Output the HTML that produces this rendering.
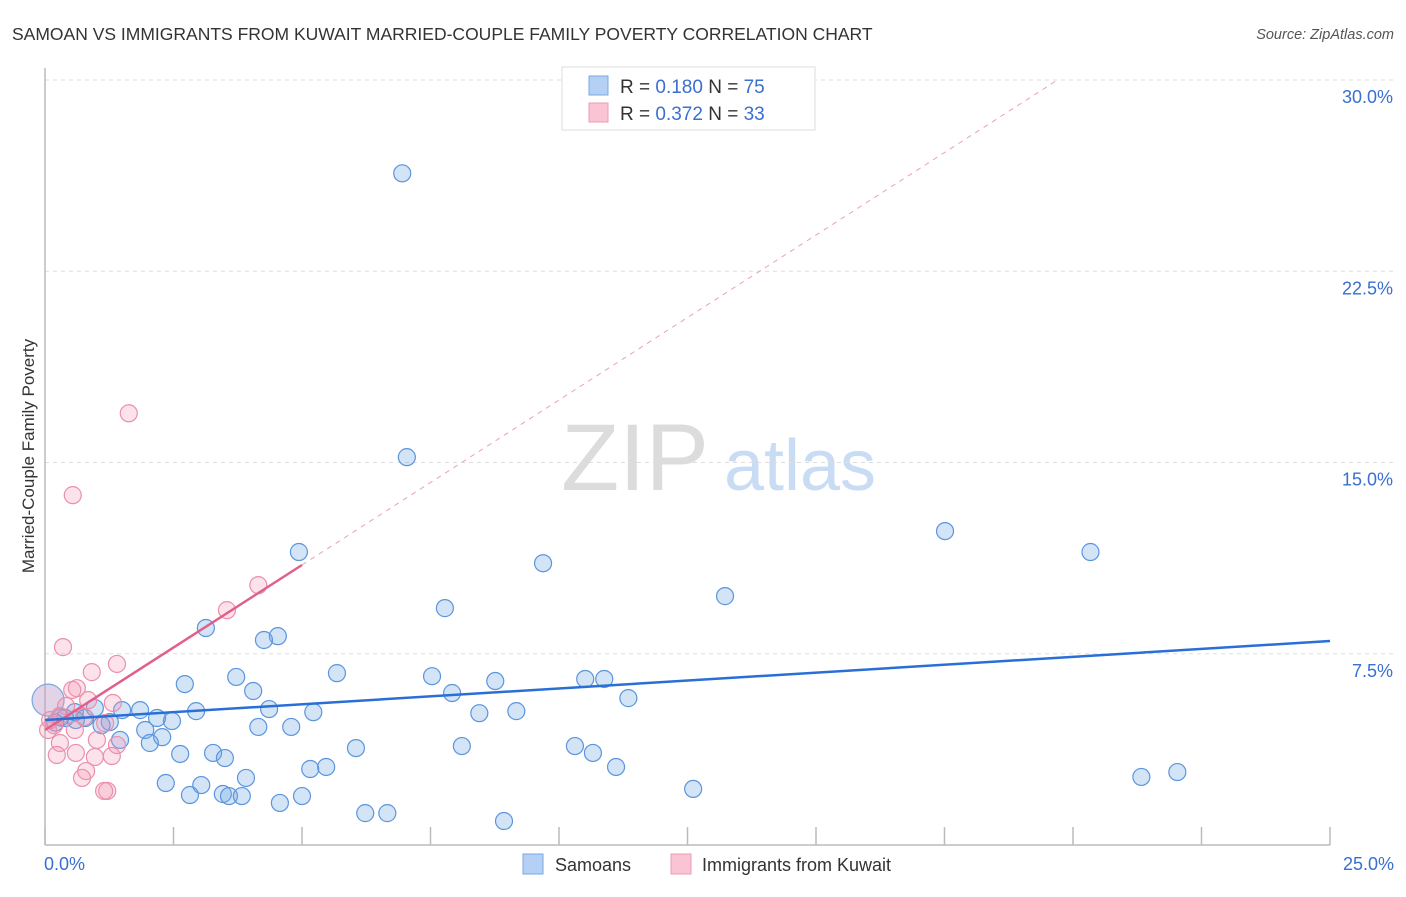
<!DOCTYPE html>
<html><head><meta charset="utf-8"><style>
body{margin:0;background:#fff;font-family:"Liberation Sans",sans-serif;}
svg text{font-family:"Liberation Sans",sans-serif;}
</style></head><body>
<svg id="chart" width="1406" height="892" xmlns="http://www.w3.org/2000/svg">
<text x="12" y="40" font-size="17.5" fill="#333">SAMOAN VS IMMIGRANTS FROM KUWAIT MARRIED-COUPLE FAMILY POVERTY CORRELATION CHART</text>
<text x="1394" y="39" font-size="14.5" fill="#555" text-anchor="end" font-style="italic">Source: ZipAtlas.com</text>
<text transform="translate(34,456) rotate(-90)" font-size="17" fill="#333" text-anchor="middle">Married-Couple Family Poverty</text>
<g>
<text x="635" y="490" font-size="95" fill="#dcdcdc" font-family="Liberation Serif" text-anchor="middle">ZIP</text>
<text x="800" y="490" font-size="72" fill="#c8dcf4" text-anchor="middle">atlas</text>
</g>
<g id="grid"></g><g id="axes"></g><g id="marks"></g>
<g>
<rect x="562" y="67" width="253" height="63" fill="#fff" stroke="#ddd"/>
<rect x="589" y="76" width="19" height="19" fill="#b4d0f4" stroke="#7aa8e0"/>
<rect x="589" y="103" width="19" height="19" fill="#fac4d4" stroke="#ec9ab4"/>
<text x="620" y="93" font-size="19" fill="#333">R = <tspan fill="#3a6fd0">0.180</tspan>   N = <tspan fill="#3a6fd0">75</tspan></text>
<text x="620" y="120" font-size="19" fill="#333">R = <tspan fill="#3a6fd0">0.372</tspan>   N = <tspan fill="#3a6fd0">33</tspan></text>
</g>
<g>
<rect x="523" y="854" width="20" height="20" fill="#b4d0f4" stroke="#7aa8e0"/>
<text x="555" y="871" font-size="18" fill="#333">Samoans</text>
<rect x="671" y="854" width="20" height="20" fill="#fac4d4" stroke="#ec9ab4"/>
<text x="702" y="871" font-size="18" fill="#333">Immigrants from Kuwait</text>
</g>
</svg>
<script>
const yTicks=[7.5,15,22.5,30];
const yTickLabels=["7.5%","15.0%","22.5%","30.0%"];
const xTickVals=[0,2.5,5,7.5,10,12.5,15,17.5,20,22.5,25];
const xEndLabels=["0.0%","25.0%"];
const samoanX=[6.95,7.04,4.94,9.69,17.51,20.34,7.78,13.23,3.13,4.53,4.26,5.68,3.72,2.72,4.05,7.53,7.92,8.76,10.51,10.88,11.35,9.17,8.45,5.22,4.36,2.94,1.85,2.18,2.47,4.15,4.79,1.50,0.97,1.26,0.78,0.39,1.95,2.28,2.04,1.46,6.05,8.11,10.31,10.66,11.11,2.63,3.27,3.50,5.16,5.47,3.91,2.35,3.04,2.82,3.46,3.58,3.83,4.57,5.00,6.23,6.66,8.93,12.61,21.33,22.03,0.58,0.3,0.6,1.1,0.2];
const samoanY=[26.34,15.21,11.49,11.05,12.31,11.49,9.29,9.76,8.51,8.19,8.04,6.74,6.59,6.31,6.04,6.62,5.96,6.43,6.51,6.51,5.76,5.25,5.17,5.21,5.33,5.25,5.29,4.98,4.86,4.63,4.63,5.29,5.37,4.82,4.98,4.98,4.51,4.23,4.00,4.12,3.80,3.88,3.88,3.61,3.06,3.57,3.61,3.41,2.98,3.06,2.63,2.43,2.35,1.96,2.00,1.92,1.92,1.65,1.92,1.25,1.25,0.94,2.20,2.67,2.86,5.21,5.0,4.9,4.7,4.8];
const kuwaitX=[1.63,0.54,4.15,3.54,0.35,1.40,0.91,0.62,0.53,0.84,1.32,0.41,0.76,1.17,0.18,0.58,1.01,0.29,1.40,0.60,0.23,0.97,1.30,0.80,0.72,1.21,1.15,0.06,0.10,0.29];
const kuwaitY=[16.93,13.72,10.19,9.21,7.76,7.10,6.78,6.15,6.08,5.68,5.57,5.45,5.02,4.78,4.70,4.51,4.12,4.00,3.92,3.61,3.53,3.45,3.49,2.90,2.63,2.12,2.12,4.51,4.90,5.06];
const samoanTrend=[4.90,8.00];
const kuwaitTrend=[4.51,10.98];
const kuwaitTrendEnd=5;
const NS="http://www.w3.org/2000/svg";
const X0=45,X1=1330,Y0=845,Y1=80;
const sx=v=>X0+(v/25)*(X1-X0);
const sy=v=>Y0-(v/30)*(Y0-Y1);
function mk(tag,attrs,parent){const e=document.createElementNS(NS,tag);for(const k in attrs)e.setAttribute(k,attrs[k]);document.getElementById(parent).appendChild(e);return e;}
yTicks.forEach((t,i)=>{
 const l=mk('line',{x1:X0,x2:1394,y1:sy(t),y2:sy(t),stroke:'#ddd','stroke-dasharray':'4,4'},'grid');
 
 
 const tx=mk('text',{x:1393,y:sy(t)+23,'font-size':18,fill:'#3a6fd0','text-anchor':'end'},'axes');
 tx.textContent=yTickLabels[i];
 
 
});
const ax=mk('line',{x1:X0,x2:X0,y1:68,y2:Y0,stroke:'#bbb','stroke-width':1.5},'axes');


const bx=mk('line',{x1:X0,x2:X1,y1:Y0,y2:Y0,stroke:'#bbb','stroke-width':1.5},'axes');


xTickVals.forEach(v=>{
 const t=mk('line',{x1:sx(v),x2:sx(v),y1:Y0-18,y2:Y0,stroke:'#bbb','stroke-width':1.5},'axes');
 
 
});
[[0,'start',44],[25,'end',1394]].forEach((d,i)=>{
 const t=mk('text',{x:d[2],y:870,'font-size':18,fill:'#3a6fd0','text-anchor':d[1]},'axes');
 t.textContent=xEndLabels[i];
 
 
});
samoanX.forEach((v,i)=>{
 const c=mk('circle',{cx:sx(v),cy:sy(samoanY[i]),r:8.5,fill:'rgba(110,165,230,0.3)',stroke:'#5b95dd','stroke-width':1.2},'marks');
 
 
});
const big=mk('circle',{cx:sx(0.06),cy:sy(5.68),r:16,fill:'rgba(190,160,200,0.45)',stroke:'#7aa8e0','stroke-width':1.2},'marks');


kuwaitX.forEach((v,i)=>{
 const c=mk('circle',{cx:sx(v),cy:sy(kuwaitY[i]),r:8.5,fill:'rgba(245,150,180,0.28)',stroke:'#eb8fad','stroke-width':1.2},'marks');
 
 
});
const slope=(kuwaitTrend[1]-kuwaitTrend[0])/kuwaitTrendEnd;
const xAt30=(30-kuwaitTrend[0])/slope;
const dl=mk('line',{x1:sx(kuwaitTrendEnd),y1:sy(kuwaitTrend[1]),x2:sx(xAt30),y2:sy(30),stroke:'#eba0b8','stroke-width':1,'stroke-dasharray':'5,5'},'marks');


const pl=mk('line',{x1:sx(0),y1:sy(kuwaitTrend[0]),x2:sx(kuwaitTrendEnd),y2:sy(kuwaitTrend[1]),stroke:'#e0608a','stroke-width':2.5},'marks');


const bl=mk('line',{x1:sx(0),y1:sy(samoanTrend[0]),x2:sx(25),y2:sy(samoanTrend[1]),stroke:'#2a6fd6','stroke-width':2.5},'marks');


</script>
</body></html>
